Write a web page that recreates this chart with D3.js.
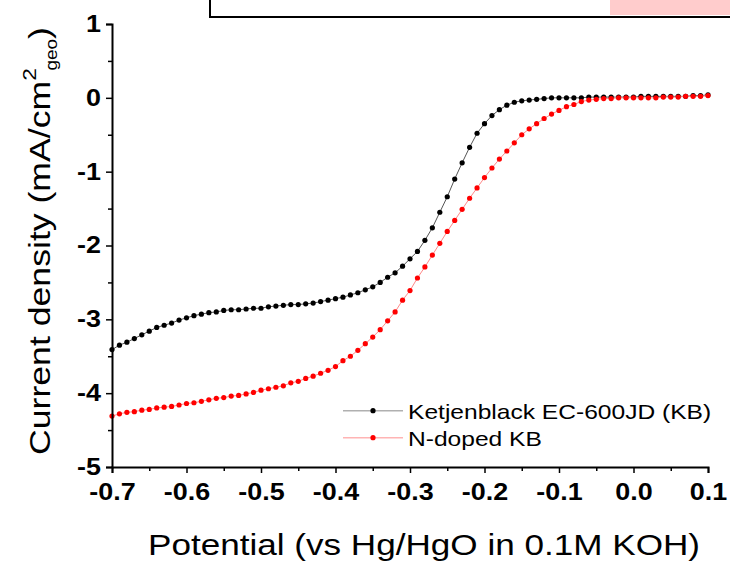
<!DOCTYPE html>
<html>
<head>
<meta charset="utf-8">
<script src="https://cdn.jsdelivr.net/npm/d3@7"></script>
<style>
  body { margin: 0; background: #fff; }
  svg { display: block; font-family: "Liberation Sans", Arial, sans-serif; }
</style>
</head>
<body>
<div id="wrapper"></div>
<script>
// potential (V vs Hg/HgO), one point every 10 mV
const potentials = d3.range(-70, 11).map(d => d / 100)

const kbCurrent = [
  -3.41, -3.35, -3.31, -3.26, -3.21, -3.16, -3.11, -3.08, -3.05, -3.01,
  -2.98, -2.95, -2.93, -2.91, -2.90, -2.88, -2.87, -2.87, -2.86, -2.85,
  -2.85, -2.83, -2.82, -2.81, -2.80, -2.80, -2.79, -2.78, -2.76, -2.74,
  -2.72, -2.70, -2.67, -2.64, -2.60, -2.56, -2.50, -2.43, -2.37, -2.28,
  -2.18, -2.08, -1.93, -1.76, -1.55, -1.34, -1.10, -0.88, -0.67, -0.48,
  -0.35, -0.24, -0.16, -0.10, -0.06, -0.04, -0.03, -0.02, -0.01, 0.00,
  0.00, 0.00, 0.00, 0.00, 0.01, 0.01, 0.01, 0.01, 0.01, 0.01,
  0.01, 0.02, 0.02, 0.02, 0.02, 0.02, 0.02, 0.02, 0.03, 0.03,
  0.04
]

const nkbCurrent = [
  -4.31, -4.28, -4.26, -4.25, -4.23, -4.22, -4.20, -4.19, -4.18, -4.16,
  -4.14, -4.13, -4.11, -4.09, -4.07, -4.06, -4.04, -4.03, -4.01, -3.99,
  -3.96, -3.94, -3.92, -3.90, -3.86, -3.84, -3.80, -3.77, -3.73, -3.69,
  -3.64, -3.56, -3.50, -3.42, -3.33, -3.24, -3.14, -3.02, -2.90, -2.74,
  -2.61, -2.44, -2.29, -2.13, -1.97, -1.81, -1.66, -1.51, -1.36, -1.22,
  -1.08, -0.95, -0.83, -0.72, -0.61, -0.50, -0.42, -0.35, -0.28, -0.22,
  -0.17, -0.12, -0.09, -0.05, -0.03, -0.02, -0.01, -0.01, 0.00, 0.00,
  0.00, 0.00, 0.00, 0.00, 0.01, 0.01, 0.01, 0.02, 0.02, 0.02,
  0.03
]

const seriesNames = ['Ketjenblack EC-600JD (KB)', 'N-doped KB']

const xTicks = [-0.7, -0.6, -0.5, -0.4, -0.3, -0.2, -0.1, 0.0, 0.1]
const xMinorTicks = [-0.65, -0.55, -0.45, -0.35, -0.25, -0.15, -0.05, 0.05]
const yTicks = [-5, -4, -3, -2, -1, 0, 1]
const yMinorTicks = [-4.5, -3.5, -2.5, -1.5, -0.5, 0.5]

// the original figure is a little wider than tall, so text is stretched sideways
const stretch = 1.17
function widen(sel, factor = stretch) {
  sel.each(function () {
    const w = this.getComputedTextLength()
    d3.select(this)
        .attr('textLength', w * factor)
        .attr('lengthAdjust', 'spacingAndGlyphs')
  })
}

function drawChart() {
  const dimensions = {
    width: 730,
    height: 561,
    margin: { top: 24, right: 22, bottom: 94, left: 112 },
  }
  dimensions.boundedWidth = dimensions.width
    - dimensions.margin.left
    - dimensions.margin.right
  dimensions.boundedHeight = dimensions.height
    - dimensions.margin.top
    - dimensions.margin.bottom

  const series = [
    { name: seriesNames[0], values: kbCurrent, dot: '#000000', line: '#555555', key: '#b0b0b0' },
    { name: seriesNames[1], values: nkbCurrent, dot: '#ff0000', line: '#ff8a8a', key: '#ffb4b4' },
  ]

  const wrapper = d3.select('#wrapper')
    .append('svg')
      .attr('width', dimensions.width)
      .attr('height', dimensions.height)

  // clipped frame of a neighbouring panel at the very top
  wrapper.append('rect')
      .attr('x', 210)
      .attr('y', -10)
      .attr('width', 540)
      .attr('height', 27)
      .attr('fill', '#fff')
      .attr('stroke', '#000')
      .attr('stroke-width', 2)
  wrapper.append('rect')
      .attr('x', 610)
      .attr('y', -10)
      .attr('width', 130)
      .attr('height', 25)
      .attr('fill', '#ffcccc')

  const bounds = wrapper.append('g')
      .attr('transform', `translate(${dimensions.margin.left},${dimensions.margin.top})`)

  const xScale = d3.scaleLinear()
      .domain([-0.7, 0.1])
      .range([0, dimensions.boundedWidth])

  const yScale = d3.scaleLinear()
      .domain([-5, 1])
      .range([dimensions.boundedHeight, 0])

  // Draw data

  const lineGenerator = d3.line()
      .x((d, i) => xScale(potentials[i]))
      .y(d => yScale(d))

  const seriesGroups = bounds.selectAll('.series')
    .data(series)
    .join('g')
      .attr('class', 'series')

  seriesGroups.append('path')
      .attr('d', d => lineGenerator(d.values))
      .attr('fill', 'none')
      .attr('stroke', d => d.line)
      .attr('stroke-width', 1)

  seriesGroups.each(function (s) {
    d3.select(this).selectAll('circle')
      .data(s.values)
      .join('circle')
        .attr('cx', (d, i) => xScale(potentials[i]))
        .attr('cy', d => yScale(d))
        .attr('r', 2.6)
        .attr('fill', s.dot)
  })

  // Draw peripherals

  bounds.append('g')
      .attr('class', 'y-axis')
      .call(d3.axisLeft(yScale)
        .tickValues(yTicks)
        .tickFormat(d => String(d))
        .tickSize(6)
        .tickPadding(5))
  bounds.append('g')
      .call(d3.axisLeft(yScale)
        .tickValues(yMinorTicks)
        .tickFormat('')
        .tickSize(4))
      .call(g => g.select('.domain').remove())

  bounds.append('g')
      .attr('class', 'x-axis')
      .attr('transform', `translate(0,${dimensions.boundedHeight})`)
      .call(d3.axisBottom(xScale)
        .tickValues(xTicks)
        .tickFormat(d => d.toFixed(1))
        .tickSize(6)
        .tickPadding(11))
  bounds.append('g')
      .attr('transform', `translate(0,${dimensions.boundedHeight})`)
      .call(d3.axisBottom(xScale)
        .tickValues(xMinorTicks)
        .tickFormat('')
        .tickSize(4))
      .call(g => g.select('.domain').remove())

  bounds.selectAll('.domain').attr('stroke-width', 2)
  bounds.selectAll('.tick line').attr('stroke-width', 1.5)
  bounds.selectAll('.tick text')
      .attr('font-family', '"Liberation Sans", Arial, sans-serif')
      .attr('font-size', 23)
      .attr('font-weight', 'bold')
      .attr('fill', '#000')
      .call(widen)

  // axis titles
  wrapper.append('text')
      .attr('x', 424)
      .attr('y', 555)
      .attr('text-anchor', 'middle')
      .attr('font-size', 30)
      .text('Potential (vs Hg/HgO in 0.1M KOH)')
      .call(widen)

  const yTitle = wrapper.append('text')
      .attr('transform', 'translate(50,241) rotate(-90)')
      .attr('text-anchor', 'middle')
      .attr('font-size', 30)
  yTitle.append('tspan').text('Current density (mA/cm')
  yTitle.append('tspan').attr('font-size', 19).attr('dy', -14).text('2')
  yTitle.append('tspan').attr('font-size', 16).attr('dy', 21).attr('dx', -2).text('geo')
  yTitle.append('tspan').attr('dy', -7).text(')')
  yTitle.attr('textLength', 428).attr('lengthAdjust', 'spacingAndGlyphs')

  // legend
  const legend = bounds.append('g')
      .attr('transform', `translate(${xScale(-0.3) - 67},${yScale(-4.17)})`)
  const legendItems = legend.selectAll('g')
    .data(series)
    .join('g')
      .attr('transform', (d, i) => `translate(0,${5 + i * 27})`)
  legendItems.append('line')
      .attr('x1', 0)
      .attr('x2', 60)
      .attr('stroke', d => d.key)
      .attr('stroke-width', 1.5)
  legendItems.append('circle')
      .attr('cx', 30)
      .attr('r', 2.6)
      .attr('fill', d => d.dot)
  legendItems.append('text')
      .attr('x', 65)
      .attr('y', 8)
      .attr('font-size', 21)
      .text(d => d.name)
      .call(widen, 1.17)
}

drawChart()
</script>
</body>
</html>
